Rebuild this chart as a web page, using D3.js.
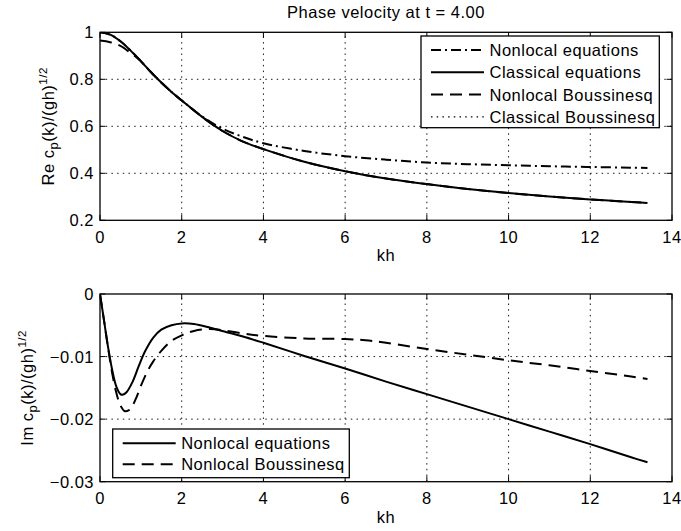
<!DOCTYPE html>
<html><head><meta charset="utf-8">
<script src="https://cdn.jsdelivr.net/npm/d3@7/dist/d3.min.js"></script>
<style>
body{margin:0;background:#fff}
text{font-family:"Liberation Sans",Arial,Helvetica,sans-serif;fill:#000}
</style>
</head><body>
<svg id="c" width="681" height="531"></svg>
<script>
// ---------- data ----------
const titleText = "Phase velocity at t = 4.00";
const xTicks = [0, 2, 4, 6, 8, 10, 12, 14];
const topYTicks = [0.2, 0.4, 0.6, 0.8, 1];
const topYTickLabels = ["0.2", "0.4", "0.6", "0.8", "1"];
const botYTicks = [-0.03, -0.02, -0.01, 0];
const botYTickLabels = ["\u22120.03", "\u22120.02", "\u22120.01", "0"];

// Re c_p
const khClassical = [0, 0.25, 0.5, 0.75, 1, 1.25, 1.5, 1.75, 2, 2.5, 3, 3.5, 4, 5, 6, 7, 8, 9, 10, 11, 12, 13, 13.4];
const reClassical = [1.0, 0.99, 0.962, 0.922, 0.877, 0.83, 0.786, 0.746, 0.71, 0.64, 0.58, 0.535, 0.503, 0.449, 0.409, 0.378, 0.354, 0.333, 0.316, 0.301, 0.289, 0.278, 0.274];
const khNonlocalEq = [0, 0.25, 0.5, 0.75, 1, 1.25, 1.5, 1.75, 2, 2.5, 3, 3.5, 4, 5, 6, 7, 8, 9, 10, 11, 12, 13, 13.4];
const reNonlocalEq = [1.0, 0.99, 0.962, 0.922, 0.877, 0.83, 0.786, 0.746, 0.71, 0.642, 0.59, 0.555, 0.528, 0.495, 0.473, 0.458, 0.446, 0.439, 0.434, 0.43, 0.427, 0.424, 0.423];
const khNonlocalBq = [0, 0.25, 0.5, 0.75, 0.95, 1.25, 1.5, 1.75, 2, 2.5, 3, 3.5, 4, 5, 6, 7, 8, 9, 10, 11, 12, 13, 13.4];
const reNonlocalBq = [0.965, 0.958, 0.942, 0.912, 0.885, 0.83, 0.786, 0.746, 0.71, 0.64, 0.58, 0.535, 0.503, 0.449, 0.409, 0.378, 0.354, 0.333, 0.316, 0.301, 0.289, 0.278, 0.274];
const khClassicalBq = [];
const reClassicalBq = [];

// Im c_p
const khImEq = [0, 0.1, 0.2, 0.3, 0.4, 0.5, 0.55, 0.65, 0.8, 0.95, 1.1, 1.3, 1.5, 1.75, 2, 2.3, 2.7, 3.1, 3.5, 4, 5, 6, 7, 8, 9, 10, 11, 12, 13, 13.4];
const imEq = [0, -0.0043, -0.0086, -0.0122, -0.0148, -0.016, -0.0161, -0.0157, -0.014, -0.0115, -0.0092, -0.007, -0.0057, -0.005, -0.0047, -0.0048, -0.0054, -0.0061, -0.0068, -0.0078, -0.0099, -0.0119, -0.014, -0.016, -0.018, -0.02, -0.022, -0.024, -0.0261, -0.0269];
const khImBq = [0, 0.1, 0.2, 0.3, 0.4, 0.5, 0.6, 0.7, 0.8, 0.9, 1.0, 1.15, 1.3, 1.5, 1.75, 2, 2.3, 2.7, 3, 3.5, 4, 5, 6, 6.5, 7, 8, 9, 10, 11, 12, 13, 13.4];
const imBq = [0, -0.0043, -0.0087, -0.0127, -0.0158, -0.0178, -0.0187, -0.0186, -0.0178, -0.0164, -0.0147, -0.0125, -0.0108, -0.0091, -0.0075, -0.0066, -0.0059, -0.0056, -0.0058, -0.0063, -0.0067, -0.0071, -0.0072, -0.0074, -0.0078, -0.0088, -0.0097, -0.0106, -0.0114, -0.0123, -0.0132, -0.0136];

const topLegend = ["Nonlocal equations", "Classical equations", "Nonlocal Boussinesq", "Classical Boussinesq"];
const botLegend = ["Nonlocal equations", "Nonlocal Boussinesq"];

// ---------- drawing ----------
const svg = d3.select("#c");
const FS = 16.5, LS = 0.5;
const DASHDOT = "10,4,2,4", DASHED = "12,7", DOTTED = "1.5,4.2";

const x = d3.scaleLinear().domain([0, 14]).range([100, 672]);
const yTop = d3.scaleLinear().domain([0.2, 1]).range([220.3, 32.3]);
const yBot = d3.scaleLinear().domain([-0.03, 0]).range([481.7, 294]);

function zip(a, b) { return a.map((v, i) => [v, b[i]]); }

function panel(y, yTicks, yLabels, yLabelX, labelPrefix) {
  const g = svg.append("g");
  const [x0, x1] = x.range();
  const [yb, yt] = y.range();
  xTicks.forEach(t => {
    if (t === 0 || t === 14) return;
    g.append("line").attr("x1", x(t)).attr("x2", x(t)).attr("y1", yb).attr("y2", yt)
      .attr("stroke", "#000").attr("stroke-width", 0.9).attr("stroke-dasharray", DOTTED);
  });
  yTicks.forEach((t, i) => {
    if (i === 0 || i === yTicks.length - 1) return;
    g.append("line").attr("x1", x0).attr("x2", x1).attr("y1", y(t)).attr("y2", y(t))
      .attr("stroke", "#000").attr("stroke-width", 0.9).attr("stroke-dasharray", DOTTED);
  });
  const TL = 5.5;
  xTicks.forEach(t => {
    g.append("line").attr("x1", x(t)).attr("x2", x(t)).attr("y1", yb).attr("y2", yb - TL).attr("stroke", "#000").attr("stroke-width", 1);
    g.append("line").attr("x1", x(t)).attr("x2", x(t)).attr("y1", yt).attr("y2", yt + TL).attr("stroke", "#000").attr("stroke-width", 1);
    g.append("text").attr("x", x(t)).attr("y", yb + 22.5).attr("text-anchor", "middle")
      .attr("font-size", FS).attr("letter-spacing", LS).text(String(t));
  });
  yTicks.forEach((t, i) => {
    g.append("line").attr("x1", x0).attr("x2", x0 + TL).attr("y1", y(t)).attr("y2", y(t)).attr("stroke", "#000").attr("stroke-width", 1);
    g.append("line").attr("x1", x1).attr("x2", x1 - TL).attr("y1", y(t)).attr("y2", y(t)).attr("stroke", "#000").attr("stroke-width", 1);
    g.append("text").attr("x", x0 - 6).attr("y", y(t) + 6).attr("text-anchor", "end")
      .attr("font-size", FS).attr("letter-spacing", LS).text(yLabels[i]);
  });
  g.append("rect").attr("x", x0).attr("y", yt).attr("width", x1 - x0).attr("height", yb - yt)
    .attr("fill", "none").attr("stroke", "#000").attr("stroke-width", 1.3);
  g.append("text").attr("x", (x0 + x1) / 2).attr("y", yb + 41).attr("text-anchor", "middle")
    .attr("font-size", FS).attr("letter-spacing", LS).text("kh");
  const cy = (yb + yt) / 2;
  const yl = g.append("text").attr("transform", `translate(${yLabelX},${cy}) rotate(-90)`)
    .attr("text-anchor", "middle").attr("font-size", FS).attr("letter-spacing", LS);
  yl.append("tspan").text(labelPrefix + " c");
  yl.append("tspan").attr("font-size", 13).attr("dy", 4).text("p");
  yl.append("tspan").attr("dy", -4).text("(k)/(gh)");
  yl.append("tspan").attr("font-size", 11.5).attr("dy", -7).text("1/2");
  return g;
}

function curve(g, xs, ys, y, dash) {
  if (!xs.length) return;
  const line = d3.line().x(d => x(d[0])).y(d => y(d[1])).curve(d3.curveCatmullRom.alpha(0.5));
  g.append("path").attr("d", line(zip(xs, ys))).attr("fill", "none").attr("stroke", "#000")
    .attr("stroke-width", 2).attr("stroke-dasharray", dash || null).attr("stroke-linejoin", "round");
}

function legend(g, bx, by, bw, bh, rowY0, rowDy, labels, dashes) {
  g.append("rect").attr("x", bx).attr("y", by).attr("width", bw).attr("height", bh)
    .attr("fill", "#fff").attr("stroke", "#000").attr("stroke-width", 1.3);
  labels.forEach((lab, i) => {
    const yy = rowY0 + i * rowDy;
    g.append("line").attr("x1", bx + 10).attr("x2", bx + 63).attr("y1", yy).attr("y2", yy)
      .attr("stroke", "#000").attr("stroke-width", dashes[i] === DOTTED ? 1.2 : 2).attr("stroke-dasharray", dashes[i] || null);
    g.append("text").attr("x", bx + 68.5).attr("y", yy + 6).attr("font-size", FS).attr("letter-spacing", LS).text(lab);
  });
}

svg.append("text").attr("x", 386).attr("y", 18).attr("text-anchor", "middle")
  .attr("font-size", FS).attr("letter-spacing", LS).text(titleText);

const gt = panel(yTop, topYTicks, topYTickLabels, 54, "Re");
svg.append("clipPath").attr("id", "ct").append("rect")
  .attr("x", 100).attr("y", 32.3).attr("width", 572).attr("height", 188);
const gtc = gt.append("g").attr("clip-path", "url(#ct)");
curve(gtc, khClassicalBq, reClassicalBq, yTop, DOTTED);
curve(gtc, khNonlocalBq, reNonlocalBq, yTop, DASHED);
curve(gtc, khNonlocalEq, reNonlocalEq, yTop, DASHDOT);
curve(gtc, khClassical, reClassical, yTop, null);
legend(gt, 421, 36, 238.3, 91.7, 50, 22.3, topLegend, [DASHDOT, null, DASHED, DOTTED]);

const gb = panel(yBot, botYTicks, botYTickLabels, 33, "Im");
svg.append("clipPath").attr("id", "cb").append("rect")
  .attr("x", 100).attr("y", 294).attr("width", 572).attr("height", 187.7);
const gbc = gb.append("g").attr("clip-path", "url(#cb)");
curve(gbc, khImBq, imBq, yBot, DASHED);
curve(gbc, khImEq, imEq, yBot, null);
legend(gb, 112.7, 429, 236.6, 48.7, 443.3, 21, botLegend, [null, DASHED]);
</script>
</body></html>
